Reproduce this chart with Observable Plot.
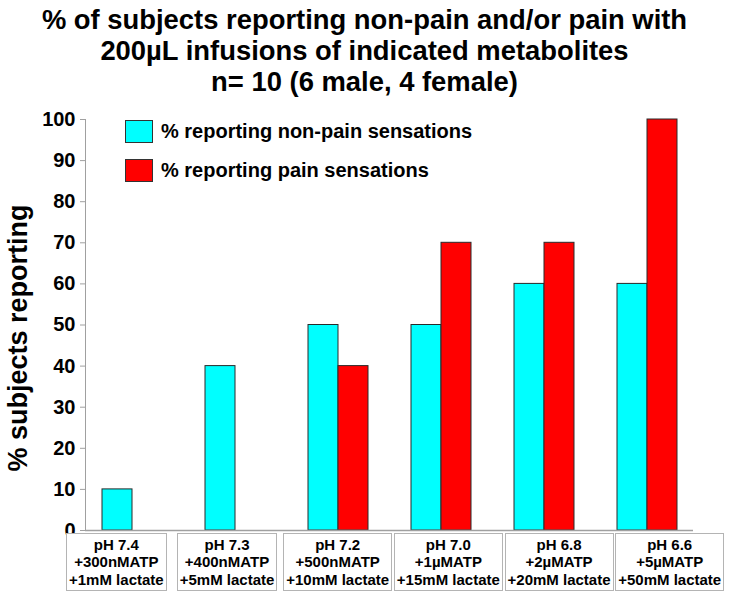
<!DOCTYPE html>
<html>
<head>
<meta charset="utf-8">
<script src="https://cdn.jsdelivr.net/npm/d3@7"></script>
<script src="https://cdn.jsdelivr.net/npm/@observablehq/plot@0.6"></script>
<style>
  html, body { margin: 0; padding: 0; background: #fff; }
  body { font-family: "Liberation Sans", Arial, Helvetica, sans-serif; }
  #wrap { position: relative; width: 729px; height: 595px; overflow: hidden; }
  #title { height: 95px; box-sizing: border-box; padding-top: 4px; text-align: center;
           font-weight: bold; font-size: 27.4px; line-height: 31px; color: #000; }
  #chart svg { display: block; overflow: visible; }
  #legend { position: absolute; left: 125px; top: 120px; font-weight: bold; font-size: 20px; color: #000; }
  .lg-row { display: flex; align-items: center; height: 22px; margin-bottom: 17px; }
  .lg-sw { width: 26px; height: 21px; border: 1px solid #333; margin-right: 8px; }
  #xlabels { position: absolute; left: 61px; top: 533px; width: 664px; display: flex; }
  .xcell { flex: 1; display: flex; justify-content: center; }
  .xbox { border: 1.5px solid #b4b4b4; padding: 2px 2px; text-align: center; font-weight: bold;
          font-size: 15px; line-height: 17.4px; color: #000; white-space: nowrap; background: #fff; }
</style>
</head>
<body>
<div id="wrap">
  <div id="title"></div>
  <div id="chart"></div>
  <div id="legend"></div>
  <div id="xlabels"></div>
</div>
<script>
// ---- data ----
const titleLines = [
  "% of subjects reporting non-pain and/or pain with",
  "200\u00B5L infusions of indicated metabolites",
  "n= 10 (6 male, 4 female)"
];
const categories = ["pH 7.4", "pH 7.3", "pH 7.2", "pH 7.0", "pH 6.8", "pH 6.6"];
const categoryLines = [
  ["pH 7.4", "+300nMATP", "+1mM lactate"],
  ["pH 7.3", "+400nMATP", "+5mM lactate"],
  ["pH 7.2", "+500nMATP", "+10mM lactate"],
  ["pH 7.0", "+1\u00B5MATP", "+15mM lactate"],
  ["pH 6.8", "+2\u00B5MATP", "+20mM lactate"],
  ["pH 6.6", "+5\u00B5MATP", "+50mM lactate"]
];
const seriesNames = ["% reporting non-pain sensations", "% reporting pain sensations"];
const seriesColors = ["#00FFFF", "#FF0000"];
const nonPain = [10, 40, 50, 50, 60, 60];
const pain = [0, 0, 40, 70, 70, 100];
const yTicks = [0, 10, 20, 30, 40, 50, 60, 70, 80, 90, 100];
const yLabel = "% subjects reporting";

const nonPainData = categories.map((c, i) => ({cat: c, value: nonPain[i]}));
const painData = categories.map((c, i) => ({cat: c, value: pain[i]}));

// ---- title ----
document.getElementById("title").innerHTML = titleLines.map(t => `<div>${t}</div>`).join("");

// ---- plot ----
const font = '"Liberation Sans", Arial, Helvetica, sans-serif';
const plot = Plot.plot({
  width: 729,
  height: 450,
  marginTop: 24,
  marginBottom: 15,
  marginLeft: 85,
  marginRight: 36,
  style: {fontFamily: font, background: "#fff", overflow: "visible"},
  x: {domain: categories, paddingInner: 0.42, paddingOuter: 0.155, axis: null},
  y: {domain: [0, 100]},
  marks: [
    Plot.barY(nonPainData, {x: "cat", y: "value", fill: seriesColors[0], stroke: "#2a2a2a", strokeWidth: 1,
      insetRight: 30, filter: d => d.value > 0}),
    Plot.barY(painData, {x: "cat", y: "value", fill: seriesColors[1], stroke: "#2a2a2a", strokeWidth: 1,
      insetLeft: 30, filter: d => d.value > 0}),
    Plot.axisY({ticks: yTicks, tickSize: 5, tickPadding: 5, stroke: "#a0a0a0", label: null,
      fontSize: 20, fontWeight: "bold", fill: "#000", tickFormat: d => String(d)}),
    Plot.frame({anchor: "left", stroke: "#a0a0a0"}),
    Plot.ruleY([0], {stroke: "#a0a0a0", strokeWidth: 1.5}),
    Plot.text([yLabel], {frameAnchor: "left", textAnchor: "middle", rotate: -90, dx: -67, dy: 13,
      fontSize: 27, fontWeight: "bold", fill: "#000"})
  ]
});
document.getElementById("chart").appendChild(plot);

// ---- legend ----
document.getElementById("legend").innerHTML = seriesNames.map((n, i) =>
  `<div class="lg-row"><div class="lg-sw" style="background:${seriesColors[i]}"></div><span>${n}</span></div>`
).join("");

// ---- x labels ----
document.getElementById("xlabels").innerHTML = categoryLines.map(lines =>
  `<div class="xcell"><div class="xbox">${lines.map(l => `<div>${l}</div>`).join("")}</div></div>`
).join("");
</script>
</body>
</html>
